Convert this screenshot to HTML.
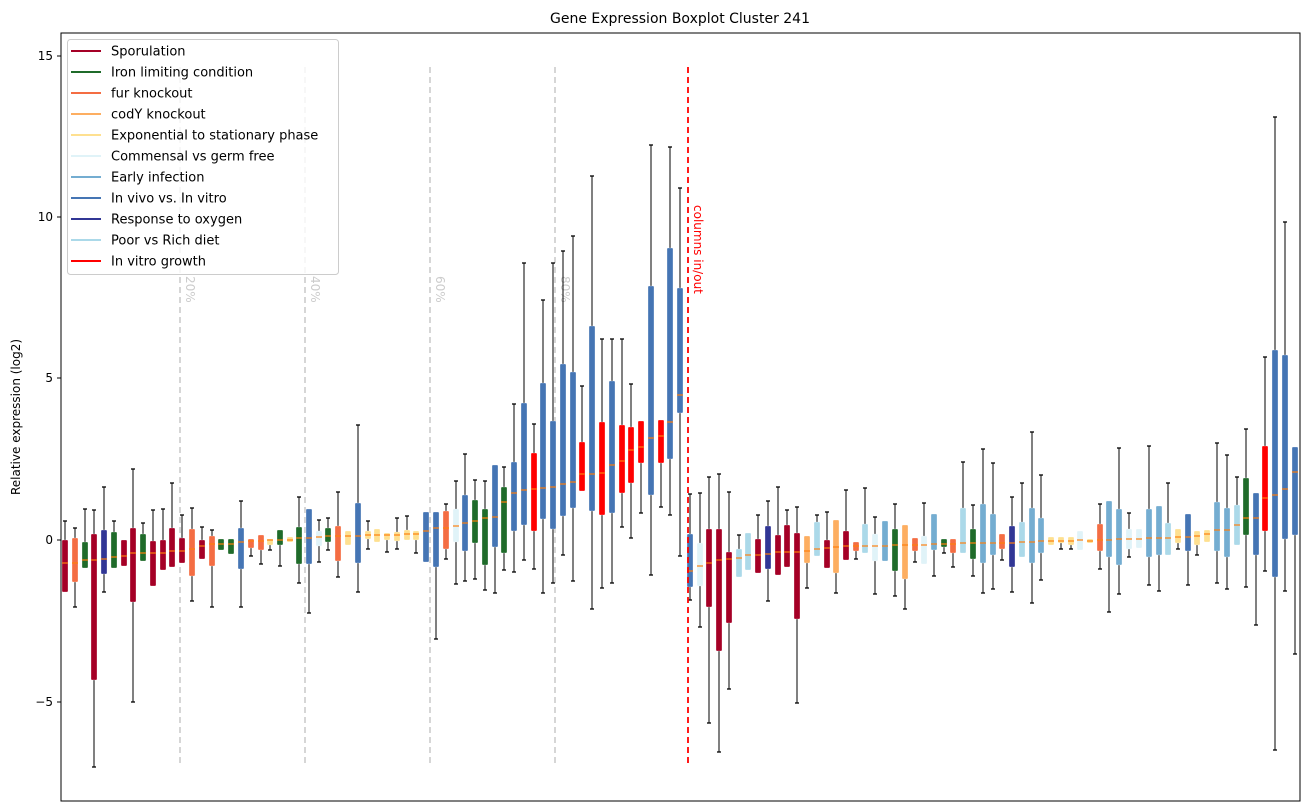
<!DOCTYPE html>
<html><head><meta charset="utf-8"><style>
body{margin:0;background:#fff}
svg{display:block;font-family:"DejaVu Sans","Liberation Sans",sans-serif}
</style></head><body>
<svg id="s" width="1309" height="812" xmlns="http://www.w3.org/2000/svg">
<rect width="1309" height="812" fill="#fff"/>
<text x="680" y="23" font-size="14" text-anchor="middle" fill="#000">Gene Expression Boxplot Cluster 241</text>
<g stroke="#ccc" stroke-width="1.6" stroke-dasharray="6,4">
<line x1="180" y1="67" x2="180" y2="767"/><line x1="305" y1="67" x2="305" y2="767"/>
<line x1="430" y1="67" x2="430" y2="767"/><line x1="555" y1="67" x2="555" y2="767"/>
</g>
<g font-size="12" fill="#ccc">
<text transform="translate(186,276) rotate(90)">20%</text>
<text transform="translate(311,276) rotate(90)">40%</text>
<text transform="translate(436,276) rotate(90)">60%</text>
<text transform="translate(561,276) rotate(90)">80%</text>
</g>
<g id="boxes"></g>
<line x1="688" y1="67" x2="688" y2="767" stroke="#f00" stroke-width="1.8" stroke-dasharray="6,4"/>
<text transform="translate(694,205) rotate(90)" font-size="12" fill="#f00">columns in/out</text>
<rect x="61" y="33" width="1239" height="768" fill="none" stroke="#000" stroke-width="1"/>
<g font-size="12" fill="#000" text-anchor="end">
<line x1="57" y1="56" x2="61" y2="56" stroke="#000"/><text x="53" y="60">15</text>
<line x1="57" y1="217" x2="61" y2="217" stroke="#000"/><text x="53" y="221">10</text>
<line x1="57" y1="378" x2="61" y2="378" stroke="#000"/><text x="53" y="382">5</text>
<line x1="57" y1="540" x2="61" y2="540" stroke="#000"/><text x="53" y="544">0</text>
<line x1="57" y1="702" x2="61" y2="702" stroke="#000"/><text x="53" y="706">−5</text>
</g>
<text transform="translate(20,417) rotate(-90)" font-size="12" text-anchor="middle">Relative expression (log2)</text>
<rect x="67.5" y="39.5" width="271" height="235" rx="3" fill="#fff" fill-opacity="0.8" stroke="#ccc"/>
<g id="leg" font-size="13" fill="#000"></g>
</svg>
<script>
var C={S:"#a50026",G:"#1f6b2a",F:"#f46d43",C:"#fdae61",E:"#fee090",M:"#e0f3f8",A:"#74add1",V:"#4575b4",O:"#313695",P:"#abd9e9",R:"#ff0000"};
var L=[["S","Sporulation"],["G","Iron limiting condition"],["F","fur knockout"],["C","codY knockout"],["E","Exponential to stationary phase"],["M","Commensal vs germ free"],["A","Early infection"],["V","In vivo vs. In vitro"],["O","Response to oxygen"],["P","Poor vs Rich diet"],["R","In vitro growth"]];
var D=[
[65,"S",521,540,563,592,592],[75,"F",528,538,563,582,607],[85,"G",509,542,560,568,568],[94,"S",510,534,560,680,767],
[104,"O",487,530,559,574,592],[114,"G",521,532,557,568,568],[124,"S",540,540,556,566,566],[133,"S",469,528,553,602,702],
[143,"G",523,534,553,561,561],[153,"S",510,541,553,586,586],[163,"S",509,540,553,570,570],[172,"S",483,528,551,567,567],
[182,"S",515,538,551,563,563],[192,"F",508,529,549,576,601],[202,"S",527,540,546,559,559],[212,"F",530,536,544,566,607],
[221,"G",539,539,544,550,550],[231,"G",539,539,544,554,554],[241,"V",501,528,542,569,607],[251,"F",539,539,541,548,556],
[261,"F",535,535,541,550,564],[270,"E",539,539,540,545,550],[280,"G",530,530,540,545,566],[290,"E",537,537,540,542,542],
[299,"G",497,527,538,564,583],[309,"V",509,509,538,564,613],[319,"M",520,531,537,546,562],[328,"G",518,528,536,542,550],
[338,"F",492,526,536,561,577],[348,"E",531,531,536,545,545],[358,"V",425,503,536,563,592],[368,"E",521,531,535,539,549],
[377,"E",529,529,535,542,542],[387,"E",533,533,535,540,552],[397,"E",518,532,535,541,549],[407,"E",516,530,534,540,540],
[416,"E",531,531,534,540,553],[426,"V",512,512,531,562,562],[436,"V",512,512,528,567,639],[446,"F",504,511,528,549,559],
[456,"M",481,509,526,542,584],[465,"V",454,495,523,551,581],[475,"G",480,500,521,543,579],[485,"G",481,509,518,565,590],
[495,"V",465,465,517,547,593],[504,"G",467,487,502,553,570],[514,"V",404,462,493,531,572],[524,"V",263,403,490,525,560],
[534,"R",424,453,489,531,569],[543,"V",300,383,488,519,593],[553,"V",263,421,487,529,583],[563,"V",251,364,484,516,555],
[573,"V",236,372,482,508,581],[582,"R",386,442,474,491,491],[592,"V",176,326,474,511,609],[602,"R",339,422,473,515,588],
[612,"V",339,381,465,513,583],[622,"R",339,425,461,493,527],[631,"R",384,427,450,483,538],[641,"R",421,421,447,463,513],
[651,"V",145,286,438,495,575],[661,"R",420,420,436,463,507],[670,"V",147,248,422,459,515],[680,"V",188,288,395,413,556],
[690,"V",494,534,571,587,600],[700,"M",493,543,566,586,627],[709,"S",477,529,563,607,723],[719,"S",474,529,560,651,752],
[729,"S",492,552,559,623,689],[739,"P",535,549,558,577,577],[748,"P",533,533,555,570,570],[758,"S",515,539,555,573,573],
[768,"O",501,526,554,569,601],[778,"S",487,535,552,575,575],[787,"S",510,525,552,567,567],[797,"S",507,533,552,619,703],
[807,"C",536,536,551,563,588],[817,"P",515,522,549,556,556],[827,"S",512,540,548,568,568],[836,"C",520,520,547,573,593],
[846,"S",490,531,546,560,560],[856,"F",542,542,546,551,559],[865,"P",488,524,546,553,553],[875,"M",517,534,546,561,594],
[885,"A",521,521,546,561,561],[895,"G",504,529,545,571,596],[905,"C",525,525,545,579,609],[915,"F",538,538,545,551,562],
[924,"M",503,536,545,564,564],[934,"A",514,514,544,550,576],[944,"G",539,539,544,547,553],[953,"F",539,539,544,553,567],
[963,"P",462,508,543,553,553],[973,"G",505,529,543,559,576],[983,"A",449,504,543,563,593],[993,"A",463,514,543,555,589],
[1002,"F",534,534,543,549,560],[1012,"O",497,526,543,567,592],[1022,"P",483,522,542,557,557],[1032,"A",432,508,542,563,603],
[1041,"A",475,518,541,553,580],[1051,"E",537,537,541,545,545],[1061,"E",537,537,541,543,549],[1071,"E",537,537,541,545,549],
[1080,"M",531,531,540,550,550],[1090,"E",539,539,541,543,543],[1100,"F",504,524,540,551,569],[1109,"A",501,501,540,557,612],
[1119,"A",448,509,539,565,594],[1129,"M",513,529,539,549,557],[1139,"M",529,529,539,548,548],[1149,"A",446,509,538,557,585],
[1159,"A",506,506,538,555,591],[1168,"P",483,523,538,555,555],[1178,"E",529,529,537,543,549],[1188,"V",514,514,537,551,585],
[1197,"E",531,531,536,545,555],[1207,"E",530,530,534,542,542],[1217,"A",443,502,530,551,583],[1227,"A",455,508,530,557,589],
[1237,"P",477,505,525,545,545],[1246,"G",429,478,518,535,587],[1256,"V",493,493,518,555,625],[1265,"R",357,446,498,531,571],
[1275,"V",117,350,495,577,750],[1285,"V",222,355,489,539,591],[1295,"V",447,447,472,535,654]];
var NS="http://www.w3.org/2000/svg",g=document.getElementById("boxes");
function el(t,a){var e=document.createElementNS(NS,t);for(var k in a)e.setAttribute(k,a[k]);return e;}
D.forEach(function(d){var x=d[0],c=C[d[1]];
 if(d[2]<d[3]){g.appendChild(el("line",{x1:x,y1:d[2],x2:x,y2:d[3],stroke:"#000","stroke-width":1}));g.appendChild(el("line",{x1:x-2,y1:d[2],x2:x+2,y2:d[2],stroke:"#000","stroke-width":1.3}));}
 if(d[6]>d[5]){g.appendChild(el("line",{x1:x,y1:d[5],x2:x,y2:d[6],stroke:"#000","stroke-width":1}));g.appendChild(el("line",{x1:x-2,y1:d[6],x2:x+2,y2:d[6],stroke:"#000","stroke-width":1.3}));}
 var h=Math.max(d[5]-d[3],2);
 g.appendChild(el("rect",{x:x-3,y:d[3],width:6,height:h,rx:1,fill:c,stroke:"#fff","stroke-opacity":0.5,"stroke-width":0.6}));
 g.appendChild(el("line",{x1:x-3,y1:d[4],x2:x+3,y2:d[4],stroke:"#ff7f0e","stroke-width":1.2}));
});
var lg=document.getElementById("leg");
L.forEach(function(l,i){var y=51+i*21;
 lg.appendChild(el("line",{x1:71,y1:y,x2:101,y2:y,stroke:C[l[0]],"stroke-width":2}));
 var t=el("text",{x:111,y:y+4.5});t.textContent=l[1];lg.appendChild(t);});
</script>
</body></html>
